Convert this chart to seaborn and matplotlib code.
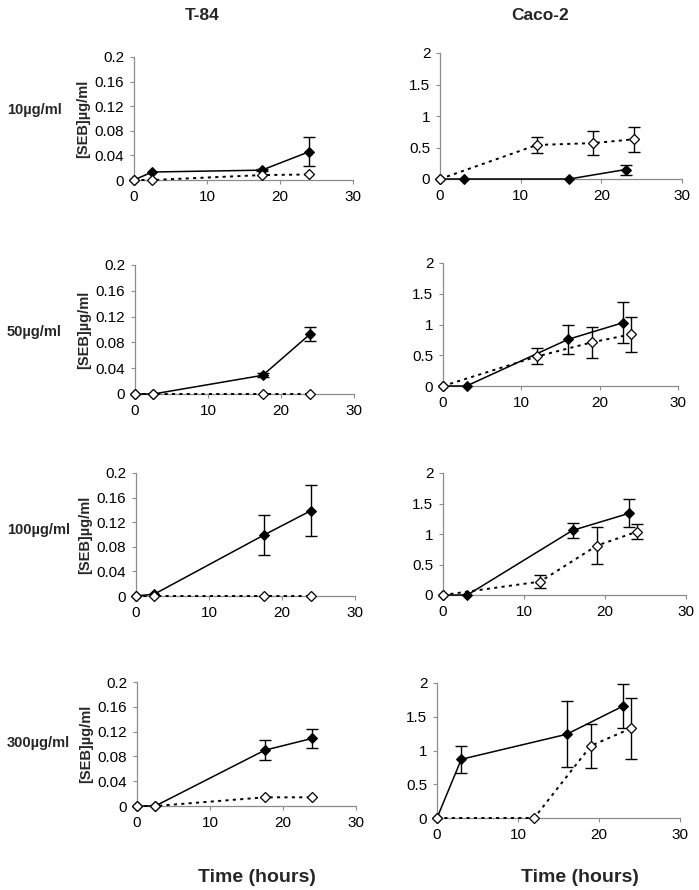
import numpy as np
import pandas as pd
import matplotlib
matplotlib.use("Agg")
import matplotlib.pyplot as plt
import seaborn as sns

# ---------------- data ----------------
cell_lines = ["T-84", "Caco-2"]
doses = ["10\u00b5g/ml", "50\u00b5g/ml", "100\u00b5g/ml", "300\u00b5g/ml"]
x_ticks = [0, 10, 20, 30]
t84_yticks = [0, 0.04, 0.08, 0.12, 0.16, 0.2]
t84_yticklabels = ["0", "0.04", "0.08", "0.12", "0.16", "0.2"]
caco_yticks = [0, 0.5, 1, 1.5, 2]
caco_yticklabels = ["0", "0.5", "1", "1.5", "2"]

# T-84 time points
t84_time = [0, 2.5, 17.5, 24]
# Caco-2 time points
caco_time_filled = [0, 3, 16, 23]
caco_time_open = [0, 12, 19, 24]

# T-84 filled / open series per dose (value, error)
t84_10_filled = [0, 0.013, 0.016, 0.046]
t84_10_filled_err = [0, 0, 0.002, 0.024]
t84_10_open = [0, 0, 0.008, 0.009]
t84_10_open_err = [0, 0, 0, 0]

t84_50_filled = [0, 0, 0.029, 0.093]
t84_50_filled_err = [0, 0, 0.003, 0.011]
t84_50_open = [0, 0, 0, 0]
t84_50_open_err = [0, 0, 0, 0]

t84_100_filled = [0, 0.003, 0.099, 0.139]
t84_100_filled_err = [0, 0, 0.033, 0.042]
t84_100_open = [0, 0, 0, 0]
t84_100_open_err = [0, 0, 0, 0]

t84_300_filled = [0, 0, 0.090, 0.109]
t84_300_filled_err = [0, 0, 0.016, 0.015]
t84_300_open = [0, 0, 0.014, 0.014]
t84_300_open_err = [0, 0, 0, 0]

# Caco-2 filled / open series per dose
caco_10_filled = [0, 0, 0, 0.15]
caco_10_filled_err = [0, 0, 0, 0.08]
caco_10_open = [0, 0.54, 0.57, 0.63]
caco_10_open_err = [0, 0.13, 0.19, 0.20]

caco_50_filled = [0, 0, 0.76, 1.03]
caco_50_filled_err = [0, 0, 0.24, 0.33]
caco_50_open = [0, 0.48, 0.71, 0.84]
caco_50_open_err = [0, 0.13, 0.25, 0.29]

caco_100_filled = [0, 0, 1.06, 1.34]
caco_100_filled_err = [0, 0, 0.12, 0.23]
caco_100_open = [0, 0.22, 0.81, 1.04]
caco_100_open_err = [0, 0.10, 0.30, 0.12]

caco_300_filled = [0, 0.87, 1.24, 1.66]
caco_300_filled_err = [0, 0.20, 0.49, 0.32]
caco_300_open = [0, 0, 1.07, 1.33]
caco_300_open_err = [0, 0, 0.33, 0.45]

# ---------------- layout ----------------
W, H = 699, 890
sns.set_theme(style="ticks")
plt.rcParams["font.family"] = ["Liberation Sans", "DejaVu Sans"]

fig = plt.figure(figsize=(W / 100, H / 100), dpi=100)

def px_axes(l, r, t, b):
    return fig.add_axes([l / W, 1 - b / H, (r - l) / W, (b - t) / H])

t84_boxes = [(134, 353, 57, 180), (135, 354, 265, 394), (136, 355, 473, 596), (137, 356, 682, 806)]
caco_boxes = [(440, 682, 53, 179), (443, 678, 263, 386), (443, 686, 473, 595), (437, 680, 683, 818)]
row_label_y = [110, 332, 530, 743]

t84_data = [
    (t84_10_filled, t84_10_filled_err, t84_10_open, t84_10_open_err),
    (t84_50_filled, t84_50_filled_err, t84_50_open, t84_50_open_err),
    (t84_100_filled, t84_100_filled_err, t84_100_open, t84_100_open_err),
    (t84_300_filled, t84_300_filled_err, t84_300_open, t84_300_open_err),
]
caco_data = [
    (caco_10_filled, caco_10_filled_err, caco_10_open, caco_10_open_err),
    (caco_50_filled, caco_50_filled_err, caco_50_open, caco_50_open_err),
    (caco_100_filled, caco_100_filled_err, caco_100_open, caco_100_open_err),
    (caco_300_filled, caco_300_filled_err, caco_300_open, caco_300_open_err),
]

spine_col = "#8c8c8c"

def draw_panel(ax, tf, yf, ef, to, yo, eo, yticks, yticklabels, ylabel):
    # error bars
    for t, y, e in ((tf, yf, ef), (to, yo, eo)):
        t = np.asarray(t); y = np.asarray(y); e = np.asarray(e)
        m = e > 0
        if m.any():
            ax.errorbar(t[m], y[m], yerr=e[m], fmt="none", ecolor="black",
                        elinewidth=1.0, capsize=4, capthick=1.0, zorder=3,
                        clip_on=False)
    df_o = pd.DataFrame({"t": to, "v": yo})
    df_f = pd.DataFrame({"t": tf, "v": yf})
    sns.lineplot(data=df_f, x="t", y="v", ax=ax, color="black", linewidth=1.1,
                 marker="D", markersize=5, markerfacecolor="black",
                 markeredgecolor="black", clip_on=False, zorder=4)
    sns.lineplot(data=df_o, x="t", y="v", ax=ax, color="black", linewidth=1.4,
                 linestyle=(0, (1.6, 2.2)), marker="D", markersize=5.5,
                 markerfacecolor="white", markeredgecolor="black",
                 markeredgewidth=0.9, clip_on=False, zorder=5)
    ax.set_xlim(0, 30)
    ax.set_ylim(yticks[0], yticks[-1])
    ax.set_xticks(x_ticks)
    ax.set_xticklabels([str(v) for v in x_ticks])
    ax.set_yticks(yticks)
    ax.set_yticklabels(yticklabels)
    ax.set_xlabel("")
    ax.set_ylabel(ylabel, fontsize=10.5, fontweight="bold", labelpad=3)
    for s in ("top", "right"):
        ax.spines[s].set_visible(False)
    for s in ("left", "bottom"):
        ax.spines[s].set_color(spine_col)
        ax.spines[s].set_linewidth(0.9)
    ax.tick_params(axis="both", length=3, width=0.8, color=spine_col,
                   labelsize=11, labelcolor="black", pad=4)
    ax.set_facecolor("white")

for i in range(4):
    l, r, t, b = t84_boxes[i]
    ax = px_axes(l, r, t, b)
    yf, ef, yo, eo = t84_data[i]
    draw_panel(ax, t84_time, yf, ef, t84_time, yo, eo,
               t84_yticks, t84_yticklabels, "[SEB]\u00b5g/ml")
    l, r, t, b = caco_boxes[i]
    ax2 = px_axes(l, r, t, b)
    yf, ef, yo, eo = caco_data[i]
    draw_panel(ax2, caco_time_filled, yf, ef, caco_time_open, yo, eo,
               caco_yticks, caco_yticklabels, "")
    fig.text(7 / W, 1 - row_label_y[i] / H, doses[i], fontsize=10.5,
             fontweight="bold", ha="left", va="center")

fig.text(202 / W, 1 - 16 / H, cell_lines[0], fontsize=12.5, fontweight="bold",
         ha="center", va="center")
fig.text(540 / W, 1 - 16 / H, cell_lines[1], fontsize=12.5, fontweight="bold",
         ha="center", va="center")
fig.text(257 / W, 1 - 877 / H, "Time (hours)", fontsize=14, fontweight="bold",
         ha="center", va="center")
fig.text(580 / W, 1 - 877 / H, "Time (hours)", fontsize=14, fontweight="bold",
         ha="center", va="center")

fig.savefig("out.png", dpi=100, facecolor="white")
